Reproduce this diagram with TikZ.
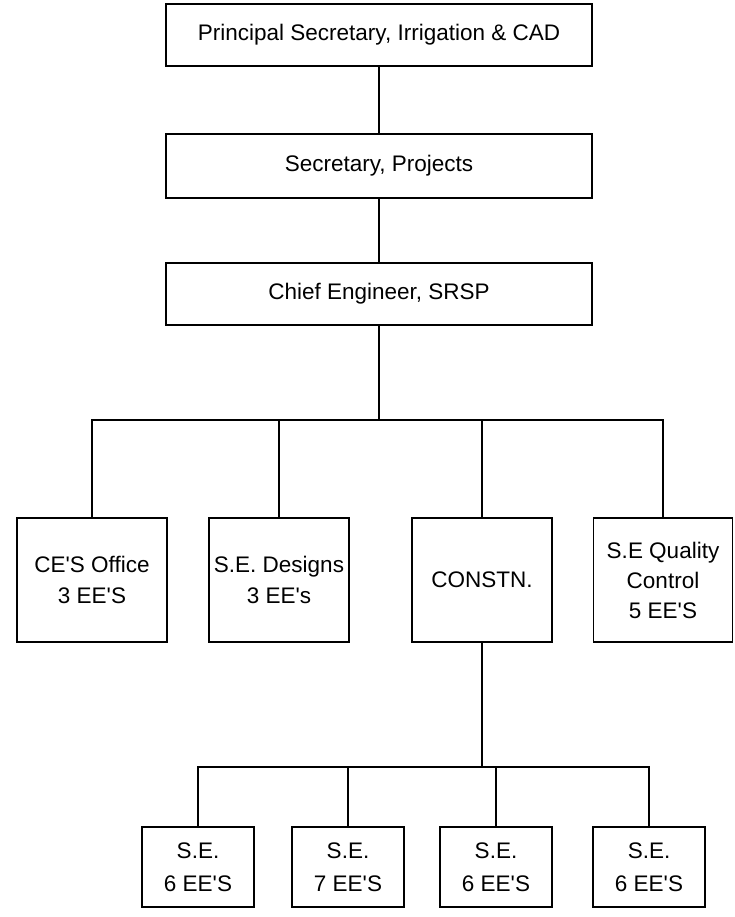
\documentclass[tikz,border=0pt]{standalone}
\usepackage{fontspec}
% family without TeX ligature mapping, so ' stays a straight apostrophe
\newfontfamily\chartfont{Liberation Sans}
\begin{document}
\begin{tikzpicture}[x=1pt, y=-1pt,
  box/.style={draw, line width=1.8pt, rectangle, inner sep=0pt, align=center,
              font=\chartfont\fontsize{22.5}{31}\selectfont},
  wide/.style={box, minimum width=426pt, minimum height=62pt},
  unit/.style={box, minimum width=142pt, minimum height=124pt},
  sebox/.style={box, minimum width=112pt, minimum height=80pt,
                font=\chartfont\fontsize{22.5}{33}\selectfont},
  link/.style={line width=1.8pt}]
\useasboundingbox (0,0) rectangle (734,917);

% top of the hierarchy
\node[wide] (ps) at (379,35)  {Principal Secretary, Irrigation \& CAD};
\node[wide, minimum height=64pt] (sp) at (379,166) {Secretary, Projects};
\node[wide] (ce) at (379,294) {Chief Engineer, SRSP};

% wings under the chief engineer
\node[unit, minimum width=150pt] (ceo) at (92,580)  {CE'S Office\\3 EE'S};
\node[unit, minimum width=140pt] (des) at (279,580) {S.E. Designs\\3 EE's};
\node[unit, minimum width=140pt] (con) at (482,580) {CONSTN.};
\node[unit, minimum width=139pt, font=\chartfont\fontsize{22.5}{30}\selectfont] (qc) at (663,580) {S.E Quality\\Control\\5 EE'S};

% construction circles
\node[sebox] (s1) at (198,867) {S.E.\\6 EE'S};
\node[sebox] (s2) at (348,867) {S.E.\\7 EE'S};
\node[sebox] (s3) at (496,867) {S.E.\\6 EE'S};
\node[sebox] (s4) at (649,867) {S.E.\\6 EE'S};

% junction levels of the tree
\coordinate (j1) at (379,420);
\coordinate (j2) at (482,767);

\draw[link] (ps.south) -- (sp.north);
\draw[link] (sp.south) -- (ce.north);
\draw[link] (ce.south) -- (j1);
\draw[link] (ceo.north) -- (ceo.north |- j1) -- (qc.north |- j1) -- (qc.north);
\draw[link] (des.north) -- (des.north |- j1);
\draw[link] (con.north) -- (con.north |- j1);

\draw[link] (con.south) -- (j2);
\draw[link] (s1.north) -- (s1.north |- j2) -- (s4.north |- j2) -- (s4.north);
\draw[link] (s2.north) -- (s2.north |- j2);
\draw[link] (s3.north) -- (s3.north |- j2);
\end{tikzpicture}
\end{document}
